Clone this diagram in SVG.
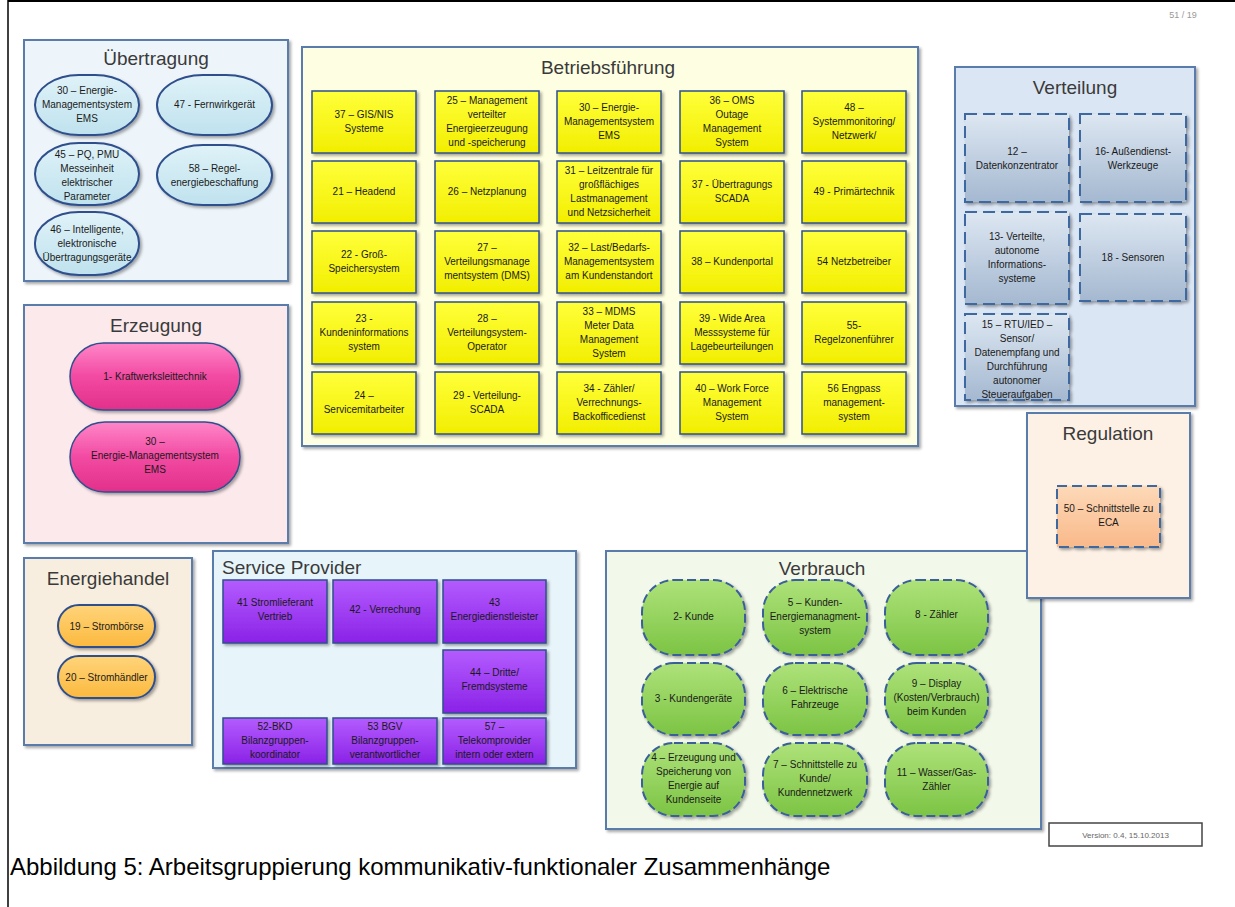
<svg xmlns="http://www.w3.org/2000/svg" width="1235" height="907" viewBox="0 0 1235 907">
<defs>
<filter id="sh" x="-10%" y="-10%" width="125%" height="125%"><feDropShadow dx="2" dy="2" stdDeviation="1.5" flood-color="#000" flood-opacity="0.35"/></filter>
<linearGradient id="gY" x1="0" y1="0" x2="0" y2="1"><stop offset="0" stop-color="#ffff3a"/><stop offset="1" stop-color="#f2ee00"/></linearGradient>
<linearGradient id="gP" x1="0" y1="0" x2="0" y2="1"><stop offset="0" stop-color="#b45cff"/><stop offset="1" stop-color="#8a22e6"/></linearGradient>
<linearGradient id="gK" x1="0" y1="0" x2="0" y2="1"><stop offset="0" stop-color="#ff86c8"/><stop offset="0.5" stop-color="#f24aa2"/><stop offset="1" stop-color="#e2308a"/></linearGradient>
<linearGradient id="gG" x1="0" y1="0" x2="0" y2="1"><stop offset="0" stop-color="#aee27a"/><stop offset="1" stop-color="#7cc444"/></linearGradient>
<linearGradient id="gB" x1="0" y1="0" x2="0" y2="1"><stop offset="0" stop-color="#dde7f2"/><stop offset="1" stop-color="#a4b8d0"/></linearGradient>
<linearGradient id="gC" x1="0" y1="0" x2="0" y2="1"><stop offset="0" stop-color="#dff2f8"/><stop offset="1" stop-color="#bfe2ee"/></linearGradient>
<linearGradient id="gO" x1="0" y1="0" x2="0" y2="1"><stop offset="0" stop-color="#ffd47a"/><stop offset="1" stop-color="#fbb93e"/></linearGradient>
<linearGradient id="gR" x1="0" y1="0" x2="0" y2="1"><stop offset="0" stop-color="#fdd9b8"/><stop offset="1" stop-color="#f9b98a"/></linearGradient>
</defs>
<style>
.grp{stroke:#5a7cab;stroke-width:2;filter:url(#sh)}
.ttl{font-family:"Liberation Sans",Arial,sans-serif;font-size:19px;fill:#3a3a3a;text-anchor:middle}
.t{font-family:"Liberation Sans",Arial,sans-serif;font-size:10px;fill:#1a1a1a;text-anchor:middle}
.y{fill:url(#gY);stroke:#2f4f8c;stroke-width:1.5;filter:url(#sh)}
.p{fill:url(#gP);stroke:#2f4f8c;stroke-width:1.5;filter:url(#sh)}
.k{fill:url(#gK);stroke:#2f4f8c;stroke-width:1.5;filter:url(#sh)}
.c{fill:url(#gC);stroke:#2f4f8c;stroke-width:2;filter:url(#sh)}
.o{fill:url(#gO);stroke:#2f4f8c;stroke-width:2;filter:url(#sh)}
.g{fill:url(#gG);stroke:#3b5f98;stroke-width:2;stroke-dasharray:9 4;filter:url(#sh)}
.b{fill:url(#gB);stroke:#3d68a0;stroke-width:2;stroke-dasharray:12 6;filter:url(#sh)}
.r{fill:url(#gR);stroke:#3d68a0;stroke-width:2;stroke-dasharray:10 5;filter:url(#sh)}
</style>
<rect width="1235" height="907" fill="#ffffff"/>
<line x1="8" y1="1" x2="1235" y2="1" stroke="#000" stroke-width="2"/>
<line x1="8" y1="0" x2="8" y2="907" stroke="#000" stroke-width="1.5"/>
<text x="1183" y="18" font-family="Liberation Sans,Arial,sans-serif" font-size="9" fill="#999" text-anchor="middle">51 / 19</text>

<g id="uebertragung">
<rect class="grp" x="24" y="40" width="264" height="241" fill="#eef5fa"/>
<text class="ttl" x="156" y="65">Übertragung</text>
</g>
<g id="n30u"><rect class="c" x="35" y="75" width="104" height="60" rx="44" ry="30"/><text class="t" x="87" y="94">30 – Energie-</text><text class="t" x="87" y="108">Managementsystem</text><text class="t" x="87" y="122">EMS</text></g>
<g id="n47"><rect class="c" x="157" y="75" width="115" height="60" rx="46" ry="30"/><text class="t" x="214.5" y="108">47 - Fernwirkgerät</text></g>
<g id="n45"><rect class="c" x="35" y="143" width="104" height="62" rx="44" ry="31"/><text class="t" x="87" y="158">45 – PQ, PMU</text><text class="t" x="87" y="172">Messeinheit</text><text class="t" x="87" y="186">elektrischer</text><text class="t" x="87" y="200">Parameter</text></g>
<g id="n58"><rect class="c" x="157" y="145" width="115" height="60" rx="46" ry="30"/><text class="t" x="214.5" y="172">58 – Regel-</text><text class="t" x="214.5" y="186">energiebeschaffung</text></g>
<g id="n46"><rect class="c" x="35" y="212" width="104" height="63" rx="44" ry="31"/><text class="t" x="87" y="233">46 – Intelligente,</text><text class="t" x="87" y="247">elektronische</text><text class="t" x="87" y="261">Übertragungsgeräte</text></g>

<g id="betriebsfuehrung">
<rect class="grp" x="302" y="47" width="616" height="399" fill="#fefee2"/>
<text class="ttl" x="608" y="74">Betriebsführung</text>
</g>
<g id="n37gis"><rect class="y" x="312" y="91" width="104" height="62"/><text class="t" x="364" y="118">37 – GIS/NIS</text><text class="t" x="364" y="132">Systeme</text></g>
<g id="n25"><rect class="y" x="435" y="91" width="104" height="62"/><text class="t" x="487" y="104">25 – Management</text><text class="t" x="487" y="118">verteilter</text><text class="t" x="487" y="132">Energieerzeugung</text><text class="t" x="487" y="146">und -speicherung</text></g>
<g id="n30b"><rect class="y" x="557" y="91" width="104" height="62"/><text class="t" x="609" y="111">30 – Energie-</text><text class="t" x="609" y="125">Managementsystem</text><text class="t" x="609" y="139">EMS</text></g>
<g id="n36"><rect class="y" x="680" y="91" width="104" height="62"/><text class="t" x="732" y="104">36 – OMS</text><text class="t" x="732" y="118">Outage</text><text class="t" x="732" y="132">Management</text><text class="t" x="732" y="146">System</text></g>
<g id="n48"><rect class="y" x="802" y="91" width="104" height="62"/><text class="t" x="854" y="111">48 –</text><text class="t" x="854" y="125">Systemmonitoring/</text><text class="t" x="854" y="139">Netzwerk/</text></g>

<g id="n21"><rect class="y" x="312" y="161" width="104" height="62"/><text class="t" x="364" y="195">21 – Headend</text></g>
<g id="n26"><rect class="y" x="435" y="161" width="104" height="62"/><text class="t" x="487" y="195">26 – Netzplanung</text></g>
<g id="n31"><rect class="y" x="557" y="161" width="104" height="62"/><text class="t" x="609" y="174">31 – Leitzentrale für</text><text class="t" x="609" y="188">großflächiges</text><text class="t" x="609" y="202">Lastmanagement</text><text class="t" x="609" y="216">und Netzsicherheit</text></g>
<g id="n37scada"><rect class="y" x="680" y="161" width="104" height="62"/><text class="t" x="732" y="188">37 - Übertragungs</text><text class="t" x="732" y="202">SCADA</text></g>
<g id="n49"><rect class="y" x="802" y="161" width="104" height="62"/><text class="t" x="854" y="195">49 - Primärtechnik</text></g>

<g id="n22"><rect class="y" x="312" y="231" width="104" height="62"/><text class="t" x="364" y="258">22 - Groß-</text><text class="t" x="364" y="272">Speichersystem</text></g>
<g id="n27"><rect class="y" x="435" y="231" width="104" height="62"/><text class="t" x="487" y="251">27 –</text><text class="t" x="487" y="265">Verteilungsmanage</text><text class="t" x="487" y="279">mentsystem (DMS)</text></g>
<g id="n32"><rect class="y" x="557" y="231" width="104" height="62"/><text class="t" x="609" y="251">32 – Last/Bedarfs-</text><text class="t" x="609" y="265">Managementsystem</text><text class="t" x="609" y="279">am Kundenstandort</text></g>
<g id="n38"><rect class="y" x="680" y="231" width="104" height="62"/><text class="t" x="732" y="265">38 – Kundenportal</text></g>
<g id="n54"><rect class="y" x="802" y="231" width="104" height="62"/><text class="t" x="854" y="265">54 Netzbetreiber</text></g>

<g id="n23"><rect class="y" x="312" y="302" width="104" height="62"/><text class="t" x="364" y="322">23 -</text><text class="t" x="364" y="336">Kundeninformations</text><text class="t" x="364" y="350">system</text></g>
<g id="n28"><rect class="y" x="435" y="302" width="104" height="62"/><text class="t" x="487" y="322">28 –</text><text class="t" x="487" y="336">Verteilungsystem-</text><text class="t" x="487" y="350">Operator</text></g>
<g id="n33"><rect class="y" x="557" y="302" width="104" height="62"/><text class="t" x="609" y="315">33 – MDMS</text><text class="t" x="609" y="329">Meter Data</text><text class="t" x="609" y="343">Management</text><text class="t" x="609" y="357">System</text></g>
<g id="n39"><rect class="y" x="680" y="302" width="104" height="62"/><text class="t" x="732" y="322">39 - Wide Area</text><text class="t" x="732" y="336">Messsysteme für</text><text class="t" x="732" y="350">Lagebeurteilungen</text></g>
<g id="n55"><rect class="y" x="802" y="302" width="104" height="62"/><text class="t" x="854" y="329">55-</text><text class="t" x="854" y="343">Regelzonenführer</text></g>

<g id="n24"><rect class="y" x="312" y="372" width="104" height="62"/><text class="t" x="364" y="399">24 –</text><text class="t" x="364" y="413">Servicemitarbeiter</text></g>
<g id="n29"><rect class="y" x="435" y="372" width="104" height="62"/><text class="t" x="487" y="399">29 - Verteilung-</text><text class="t" x="487" y="413">SCADA</text></g>
<g id="n34"><rect class="y" x="557" y="372" width="104" height="62"/><text class="t" x="609" y="392">34 - Zähler/</text><text class="t" x="609" y="406">Verrechnungs-</text><text class="t" x="609" y="420">Backofficedienst</text></g>
<g id="n40"><rect class="y" x="680" y="372" width="104" height="62"/><text class="t" x="732" y="392">40 – Work Force</text><text class="t" x="732" y="406">Management</text><text class="t" x="732" y="420">System</text></g>
<g id="n56"><rect class="y" x="802" y="372" width="104" height="62"/><text class="t" x="854" y="392">56 Engpass</text><text class="t" x="854" y="406">management-</text><text class="t" x="854" y="420">system</text></g>

<g id="verteilung">
<rect class="grp" x="955" y="67" width="240" height="339" fill="#dbe6f4"/>
<text class="ttl" x="1075" y="94">Verteilung</text>
</g>
<g id="n12"><rect class="b" x="965" y="114" width="104" height="88"/><text class="t" x="1017" y="155">12 –</text><text class="t" x="1017" y="169">Datenkonzentrator</text></g>
<g id="n16"><rect class="b" x="1080" y="114" width="106" height="88"/><text class="t" x="1133" y="155">16- Außendienst-</text><text class="t" x="1133" y="169">Werkzeuge</text></g>
<g id="n13"><rect class="b" x="965" y="212" width="104" height="92"/><text class="t" x="1017" y="240">13- Verteilte,</text><text class="t" x="1017" y="254">autonome</text><text class="t" x="1017" y="268">Informations-</text><text class="t" x="1017" y="282">systeme</text></g>
<g id="n18"><rect class="b" x="1080" y="214" width="106" height="87"/><text class="t" x="1133" y="261">18 - Sensoren</text></g>
<g id="n15"><rect class="b" x="965" y="314" width="104" height="86"/><text class="t" x="1017" y="328">15 – RTU/IED –</text><text class="t" x="1017" y="342">Sensor/</text><text class="t" x="1017" y="356">Datenempfang und</text><text class="t" x="1017" y="370">Durchführung</text><text class="t" x="1017" y="384">autonomer</text><text class="t" x="1017" y="398">Steueraufgaben</text></g>

<g id="erzeugung">
<rect class="grp" x="24" y="305" width="264" height="238" fill="#fbe9ec"/>
<text class="ttl" x="156" y="332">Erzeugung</text>
</g>
<g id="n1"><rect class="k" x="70" y="343" width="170" height="67" rx="33.5"/><text class="t" x="155" y="380">1- Kraftwerksleittechnik</text></g>
<g id="n30e"><rect class="k" x="70" y="422" width="170" height="70" rx="35"/><text class="t" x="155" y="445">30 –</text><text class="t" x="155" y="459">Energie-Managementsystem</text><text class="t" x="155" y="473">EMS</text></g>

<g id="energiehandel">
<rect class="grp" x="24" y="558" width="168" height="187" fill="#f8eedf"/>
<text class="ttl" x="108" y="585">Energiehandel</text>
</g>
<g id="n19"><rect class="o" x="58" y="605" width="97" height="42" rx="21"/><text class="t" x="106.5" y="630">19 – Strombörse</text></g>
<g id="n20"><rect class="o" x="58" y="656" width="97" height="42" rx="21"/><text class="t" x="106.5" y="681">20 – Stromhändler</text></g>

<g id="serviceprovider">
<rect class="grp" x="213" y="551" width="363" height="217" fill="#e7f5fa"/>
<text class="ttl" x="222" y="574" style="text-anchor:start">Service Provider</text>
</g>
<g id="n41"><rect class="p" x="223" y="580" width="104" height="63"/><text class="t" x="275" y="606">41 Stromlieferant</text><text class="t" x="275" y="620">Vertrieb</text></g>
<g id="n42"><rect class="p" x="333" y="580" width="104" height="63"/><text class="t" x="385" y="613">42 - Verrechung</text></g>
<g id="n43"><rect class="p" x="443" y="580" width="103" height="63"/><text class="t" x="494.5" y="606">43</text><text class="t" x="494.5" y="620">Energiedienstleister</text></g>
<g id="n44"><rect class="p" x="443" y="650" width="103" height="63"/><text class="t" x="494.5" y="676">44 – Dritte/</text><text class="t" x="494.5" y="690">Fremdsysteme</text></g>
<g id="n52"><rect class="p" x="223" y="718" width="104" height="46"/><text class="t" x="275" y="730">52-BKD</text><text class="t" x="275" y="744">Bilanzgruppen-</text><text class="t" x="275" y="758">koordinator</text></g>
<g id="n53"><rect class="p" x="333" y="718" width="104" height="46"/><text class="t" x="385" y="730">53 BGV</text><text class="t" x="385" y="744">Bilanzgruppen-</text><text class="t" x="385" y="758">verantwortlicher</text></g>
<g id="n57"><rect class="p" x="443" y="718" width="103" height="46"/><text class="t" x="494.5" y="730">57 –</text><text class="t" x="494.5" y="744">Telekomprovider</text><text class="t" x="494.5" y="758">intern oder extern</text></g>

<g id="verbrauch">
<rect class="grp" x="606" y="551" width="435" height="278" fill="#f2f8ea"/>
<text class="ttl" x="822" y="575">Verbrauch</text>
</g>
<g id="n2"><rect class="g" x="642" y="580" width="103" height="75" rx="32"/><text class="t" x="693.5" y="620">2- Kunde</text></g>
<g id="n5"><rect class="g" x="763" y="580" width="104" height="75" rx="32"/><text class="t" x="815" y="606">5 – Kunden-</text><text class="t" x="815" y="620">Energiemanagment-</text><text class="t" x="815" y="634">system</text></g>
<g id="n8"><rect class="g" x="885" y="580" width="103" height="75" rx="32"/><text class="t" x="936.5" y="618">8 - Zähler</text></g>
<g id="n3"><rect class="g" x="642" y="663" width="103" height="72" rx="32"/><text class="t" x="693.5" y="702">3 - Kundengeräte</text></g>
<g id="n6"><rect class="g" x="763" y="663" width="104" height="72" rx="32"/><text class="t" x="815" y="694">6 – Elektrische</text><text class="t" x="815" y="708">Fahrzeuge</text></g>
<g id="n9"><rect class="g" x="885" y="663" width="103" height="72" rx="32"/><text class="t" x="936.5" y="687">9 – Display</text><text class="t" x="936.5" y="701">(Kosten/Verbrauch)</text><text class="t" x="936.5" y="715">beim Kunden</text></g>
<g id="n4"><rect class="g" x="642" y="743" width="103" height="73" rx="32"/><text class="t" x="693.5" y="761">4 – Erzeugung und</text><text class="t" x="693.5" y="775">Speicherung von</text><text class="t" x="693.5" y="789">Energie auf</text><text class="t" x="693.5" y="803">Kundenseite</text></g>
<g id="n7"><rect class="g" x="763" y="743" width="104" height="73" rx="32"/><text class="t" x="815" y="768">7 – Schnittstelle  zu</text><text class="t" x="815" y="782">Kunde/</text><text class="t" x="815" y="796">Kundennetzwerk</text></g>
<g id="n11"><rect class="g" x="885" y="743" width="103" height="73" rx="32"/><text class="t" x="936.5" y="776">11 – Wasser/Gas-</text><text class="t" x="936.5" y="790">Zähler</text></g>

<g id="regulation">
<rect class="grp" x="1027" y="413" width="163" height="185" fill="#fdf1e6"/>
<text class="ttl" x="1108" y="440">Regulation</text>
</g>
<g id="n50"><rect class="r" x="1057" y="486" width="103" height="61"/><text class="t" x="1108.5" y="512">50 – Schnittstelle zu</text><text class="t" x="1108.5" y="526">ECA</text></g>

<g id="connectors"></g>

<g id="version"><rect x="1049" y="823" width="153" height="23" fill="#fff" stroke="#444" stroke-width="1.5"/><text x="1125.5" y="838" font-family="Liberation Sans,Arial,sans-serif" font-size="8" fill="#666" text-anchor="middle">Version: 0.4, 15.10.2013</text></g>

<text x="10" y="875" font-family="Liberation Sans,Arial,sans-serif" font-size="24" fill="#000">Abbildung 5: Arbeitsgruppierung kommunikativ-funktionaler Zusammenhänge</text>
</svg>
